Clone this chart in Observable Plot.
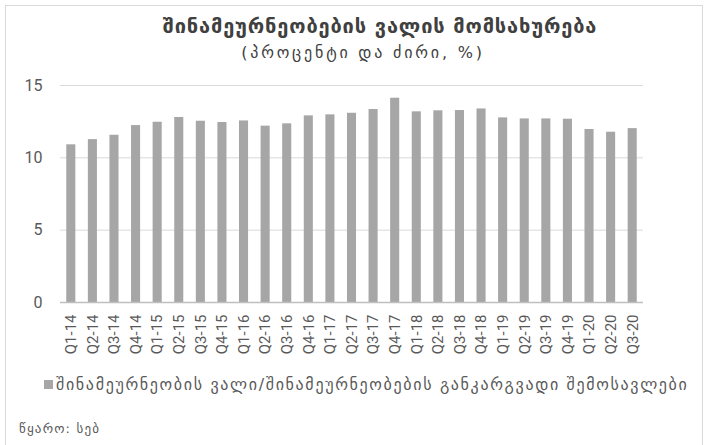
<!DOCTYPE html>
<html>
<head>
<meta charset="utf-8">
<script src="https://cdn.jsdelivr.net/npm/d3@7"></script>
<script src="https://cdn.jsdelivr.net/npm/@observablehq/plot@0.6"></script>
<style>
  html, body { margin: 0; padding: 0; background: #fff; }
  #wrap { position: relative; width: 707px; height: 445px; overflow: hidden; font-family: "DejaVu Sans", sans-serif; }
  #frame { position: absolute; left: 5px; top: 5px; width: 698px; height: 460px; border: 1px solid #d9d9d9; box-sizing: border-box; }
  #title { position: absolute; left: 0; width: 707px; top: 14px; text-align: center; padding-left: 53px; box-sizing: border-box; font-weight: bold; font-size: 20px; letter-spacing: 0.85px; color: #404040; }
  #subtitle { position: absolute; left: 0; width: 707px; top: 43px; text-align: center; padding-left: 19px; box-sizing: border-box; font-size: 16px; letter-spacing: 2.8px; color: #404040; }
  #chart { position: absolute; left: 0; top: 70px; }
  #legend { position: absolute; left: 44px; top: 375px; font-size: 16px; letter-spacing: 1.65px; color: #595959; white-space: nowrap; display: flex; align-items: center; }
  #legend .sw { width: 9px; height: 9px; background: #a6a6a6; margin-right: 3px; }
  #source { position: absolute; left: 19px; top: 421px; font-size: 13px; letter-spacing: 1.2px; color: #595959; }
</style>
</head>
<body>
<div id="wrap">
  <div id="frame"></div>
  <div id="title"></div>
  <div id="subtitle"></div>
  <div id="chart"></div>
  <div id="legend"><span class="sw"></span><span id="legtext"></span></div>
  <div id="source"></div>
</div>
<script>
const titleText = "შინამეურნეობების ვალის მომსახურება";
const subtitleText = "(პროცენტი და ძირი, %)";
const seriesName = "შინამეურნეობის ვალი/შინამეურნეობების განკარგვადი შემოსავლები";
const sourceText = "წყარო: სებ";

const quarters = ["Q1-14","Q2-14","Q3-14","Q4-14","Q1-15","Q2-15","Q3-15","Q4-15","Q1-16","Q2-16","Q3-16","Q4-16","Q1-17","Q2-17","Q3-17","Q4-17","Q1-18","Q2-18","Q3-18","Q4-18","Q1-19","Q2-19","Q3-19","Q4-19","Q1-20","Q2-20","Q3-20"];
const values = [10.9,11.26,11.56,12.23,12.46,12.79,12.53,12.44,12.55,12.19,12.35,12.9,12.97,13.08,13.34,14.12,13.18,13.25,13.27,13.38,12.76,12.69,12.69,12.67,11.96,11.77,12.02];
const yTicks = [0,5,10,15];

document.getElementById("title").textContent = titleText;
document.getElementById("subtitle").textContent = subtitleText;
document.getElementById("legtext").textContent = seriesName;
document.getElementById("source").textContent = sourceText;

const data = quarters.map((q, i) => ({q, v: values[i]}));

const chart = Plot.plot({
  width: 707,
  height: 305,
  marginTop: 15,
  marginBottom: 73,
  marginLeft: 60,
  marginRight: 64,
  style: { fontFamily: "Roboto, sans-serif", background: "transparent" },
  x: { domain: quarters, paddingInner: 0.58, paddingOuter: 0.29, round: false, label: null },
  y: { domain: [0, 15], label: null },
  marks: [
    Plot.gridY(yTicks.filter(d => d > 0), { stroke: "#d9d9d9", strokeOpacity: 1, strokeWidth: 1 }),
    Plot.barY(data, { x: "q", y: "v", fill: "#a6a6a6" }),
    Plot.ruleY([0], { stroke: "#bfbfbf", strokeWidth: 1.5 }),
    Plot.axisY({ ticks: yTicks, tickSize: 0, tickPadding: 18, fontSize: 16, fill: "#595959", label: null }),
    Plot.axisX({ tickSize: 0, tickPadding: 12, tickRotate: -90, fontSize: 15, fill: "#595959", label: null, style: "letter-spacing:1.8px" })
  ]
});
document.getElementById("chart").appendChild(chart);
</script>
</body>
</html>
